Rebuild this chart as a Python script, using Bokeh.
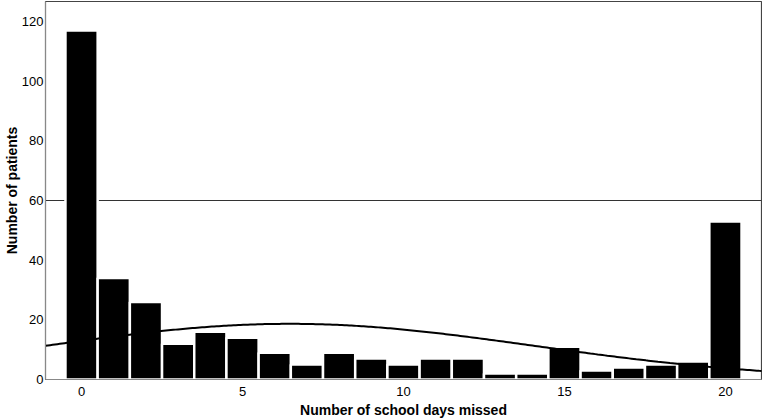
import numpy as np
from bokeh.plotting import figure
from bokeh.models import FixedTicker, Range1d
from bokeh.embed import file_html
from bokeh.resources import INLINE

# Data
days_missed = [0, 1, 2, 3, 4, 5, 6, 7, 8, 9, 10, 11, 12, 13, 14, 15, 16, 17, 18, 19, 20]
patients = [117, 34, 26, 12, 16, 14, 9, 5, 9, 7, 5, 7, 7, 2, 2, 11, 3, 4, 5, 6, 53]
x_ticks = [0, 5, 10, 15, 20]
y_ticks = [0, 20, 40, 60, 80, 100, 120]
reference_line = [60]

# Normal curve fitted to the histogram (mean / sd of the counts), scaled to counts
d = np.array(days_missed, dtype=float)
n = np.array(patients, dtype=float)
N = n.sum()
mean = (d * n).sum() / N
sd = np.sqrt(((d - mean) ** 2 * n).sum() / (N - 1))
xc = np.linspace(-1.2, 21.2, 300)
yc = N * 1.0 / (sd * np.sqrt(2 * np.pi)) * np.exp(-0.5 * ((xc - mean) / sd) ** 2)

FONT = "Liberation Sans"

p = figure(
    width=762, height=420,
    x_range=Range1d(-1.12, 21.12), y_range=Range1d(0, 126.7),
    output_backend="svg", toolbar_location=None,
    min_border_left=0, min_border_right=1, min_border_top=1, min_border_bottom=0,
)
p.background_fill_color = "white"
p.border_fill_color = "white"
p.outline_line_color = "#444444"
p.outline_line_width = 1.2
p.xgrid.visible = False
p.ygrid.visible = False

p.hspan(y=reference_line, line_color="#333333", line_width=1)
p.vbar(x=days_missed, top=patients, width=1.0, fill_color="black",
       line_color="white", line_width=2.5)
p.line(xc, yc, line_color="black", line_width=2)

for ax in (p.xaxis[0], p.yaxis[0]):
    ax.major_tick_line_color = None
    ax.minor_tick_line_color = None
    ax.major_tick_out = 0
    ax.major_tick_in = 0
    ax.axis_line_color = "#888888"
    ax.major_label_text_font = FONT
    ax.major_label_text_font_size = "13px"
    ax.major_label_text_color = "black"
    ax.axis_label_text_font = FONT
    ax.axis_label_text_font_style = "bold"
    ax.axis_label_text_font_size = "14px"
    ax.axis_label_text_color = "black"

p.xaxis.ticker = FixedTicker(ticks=x_ticks)
p.yaxis.ticker = FixedTicker(ticks=y_ticks)
p.xaxis.axis_label = "Number of school days missed"
p.yaxis.axis_label = "Number of patients"
p.xaxis.major_label_standoff = 7
p.yaxis.major_label_standoff = 2
p.xaxis.axis_label_standoff = 3
p.yaxis.axis_label_standoff = -1

open("out.html", "w").write(file_html(p, INLINE))
